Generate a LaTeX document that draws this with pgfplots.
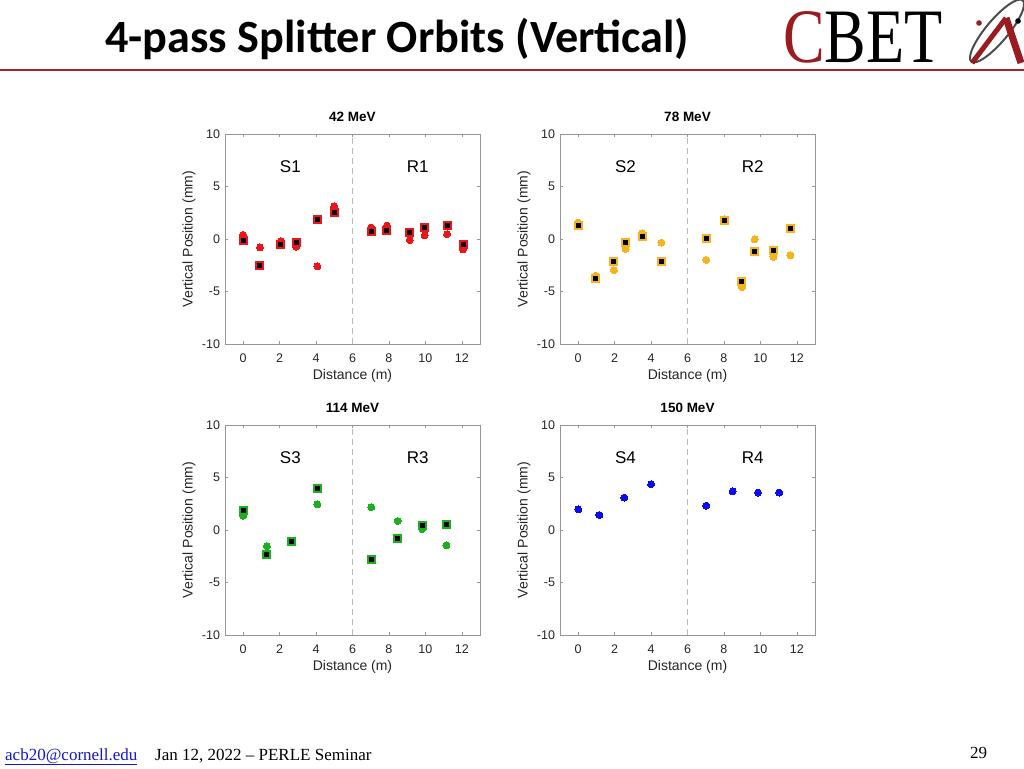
\documentclass[border=0pt]{standalone}
\usepackage{fontspec}
\setmainfont{Liberation Sans}
\newfontfamily\carlito{Carlito}
\newfontfamily\tnr{Liberation Serif}
\usepackage{pgfplots}
\pgfplotsset{compat=1.18}
\definecolor{axgray}{RGB}{150,150,150}
\definecolor{labgray}{RGB}{38,38,38}
\definecolor{mred}{RGB}{236,22,26}
\definecolor{morange}{RGB}{245,180,30}
\definecolor{mgreen}{RGB}{28,176,28}
\definecolor{mblue}{RGB}{12,12,240}
\definecolor{logored}{RGB}{155,28,32}
\definecolor{linered}{RGB}{165,35,45}
\definecolor{dashgray}{RGB}{185,185,185}
\definecolor{linkblue}{RGB}{20,20,220}
\tikzset{seclabel/.style={font=\fontsize{17}{17}\selectfont, text=black}}
\pgfplotsset{
  panel/.style={
    width=255pt, height=210pt, scale only axis,
    xmin=-1, xmax=13, ymin=-10, ymax=10,
    xtick={0,2,...,12}, ytick={-10,-5,0,5,10},
    tick align=inside, major tick length=3pt,
    axis line style={draw=axgray, line width=0.6pt},
    every tick/.style={draw=axgray, line width=0.5pt},
    /pgf/number format/assume math mode=true,
    ticklabel style={font=\fontsize{12.5}{12.5}\selectfont, text=labgray},
    xticklabel style={anchor=center, yshift=-14pt},
    yticklabel style={xshift=-1.5pt},
    xlabel={Distance (m)}, ylabel={Vertical Position (mm)},
    xlabel style={at={(axis description cs:0.5,-0.152)}, anchor=center, font=\fontsize{14}{14}\selectfont, text=labgray},
    ylabel style={at={(axis description cs:-0.141,0.5)}, anchor=center, font=\fontsize{14}{14}\selectfont, text=labgray},
    title style={at={(axis description cs:0.5,1.052)}, anchor=center, font=\bfseries\fontsize{13.5}{13.5}\selectfont, text=black},
    clip=false,
  },
  circ/.style={only marks, mark=*, mark size=3.5pt, mark options={draw=#1, fill=#1, line width=0pt}},
  sq/.style={only marks, mark=square*, mark size=3.5pt, mark options={draw=#1, fill=black, line width=2pt}},
  divider/.style={dashgray, line width=0.9pt, dash pattern=on 6pt off 4pt},
}
\begin{document}
\begin{tikzpicture}[x=1pt,y=1pt]
\fill[white] (0,0) rectangle (1024,768);
\useasboundingbox (0,0) rectangle (1024,768);
% header
\node[anchor=base west, inner sep=0pt, font=\carlito\bfseries\fontsize{46.2}{46.2}\selectfont] at (105,715) {4-pass Splitter Orbits (Vertical)};
\fill[linered] (0,696.5) rectangle (1024,698.8);
% logo
\node[anchor=base west, inner sep=0pt, xscale=0.81, font=\tnr\fontsize{77}{77}\selectfont] at (783,705) {\textcolor{logored}{C}BET};
\draw[gray!60!black, line width=2pt, rotate around={50:(997,737)}] (997,737) ellipse (40 and 11);
\draw[logored, line width=5pt, line cap=butt] (972,705) -- (1006,750);
\draw[logored, line width=7pt, line cap=butt] (1006,750) -- (1021,705);
\fill[logored] (979,745) circle (2.8);
\fill[black] (1018,747) circle (2.8);
% footer
\node[anchor=base west, inner sep=0pt, font=\tnr\fontsize{17}{17}\selectfont, text=linkblue] (mail) at (5,8) {acb20@cornell.edu};
\draw[linkblue, line width=0.8pt] (mail.south west) ++(0,-1) -- ++(132,0);
\node[anchor=base west, inner sep=0pt, font=\tnr\fontsize{17}{17}\selectfont] at (155,8) {Jan 12, 2022 – PERLE Seminar};
\node[anchor=base west, inner sep=0pt, font=\tnr\fontsize{17}{17}\selectfont] at (970,10) {29};

% Panel 1: 42 MeV
\begin{axis}[panel, at={(225pt,424pt)}, anchor=south west, title={42 MeV}]
\addplot[divider] coordinates {(6,-10) (6,10)};
\addplot[circ=mred] coordinates {(0,0.4) (0.92,-0.8) (2.07,-0.2) (2.9,-0.74) (4.07,-2.6) (4.99,3.1) (7.03,1.09) (7.89,1.28) (9.14,-0.1) (9.96,0.35) (11.19,0.45) (12.07,-1.0)};
\addplot[sq=mred] coordinates {(0,-0.1) (0.92,-2.5) (2.07,-0.48) (2.9,-0.35) (4.07,1.9) (4.99,2.53) (7.03,0.7) (7.89,0.8) (9.14,0.64) (9.96,1.09) (11.19,1.28) (12.07,-0.51)};
\node[seclabel] at (axis cs:2.59,6.92) {S1};
\node[seclabel] at (axis cs:9.58,6.92) {R1};
\end{axis}

% Panel 2: 78 MeV
\begin{axis}[panel, at={(560pt,424pt)}, anchor=south west, title={78 MeV}]
\addplot[divider] coordinates {(6,-10) (6,10)};
\addplot[circ=morange] coordinates {(0,1.57) (0.95,-3.5) (1.96,-2.98) (2.6,-0.96) (3.52,0.55) (4.57,-0.35) (7.03,-1.99) (8.04,1.9) (8.99,-4.58) (9.69,-0.03) (10.72,-1.7) (11.65,-1.54)};
\addplot[sq=morange] coordinates {(0,1.25) (0.95,-3.72) (1.96,-2.1) (2.6,-0.32) (3.52,0.22) (4.57,-2.1) (7.03,0.06) (8.04,1.76) (8.99,-4.04) (9.69,-1.19) (10.72,-1.06) (11.65,1.03)};
\node[seclabel] at (axis cs:2.59,6.92) {S2};
\node[seclabel] at (axis cs:9.58,6.92) {R2};
\end{axis}

% Panel 3: 114 MeV
\begin{axis}[panel, at={(225pt,133pt)}, anchor=south west, title={114 MeV}]
\addplot[divider] coordinates {(6,-10) (6,10)};
\addplot[circ=mgreen] coordinates {(0,1.37) (1.3,-1.53) (2.66,-1.11) (4.07,2.45) (7.03,2.17) (8.48,0.86) (9.82,0.1) (11.16,-1.46)};
\addplot[sq=mgreen] coordinates {(0,1.85) (1.3,-2.29) (2.66,-1.11) (4.07,3.92) (7.03,-2.77) (8.48,-0.8) (9.82,0.41) (11.16,0.48)};
\node[seclabel] at (axis cs:2.59,6.92) {S3};
\node[seclabel] at (axis cs:9.58,6.92) {R3};
\end{axis}

% Panel 4: 150 MeV
\begin{axis}[panel, at={(560pt,133pt)}, anchor=south west, title={150 MeV}]
\addplot[divider] coordinates {(6,-10) (6,10)};
\addplot[circ=mblue] coordinates {(0,1.97) (1.16,1.43) (2.53,3.09) (4.0,4.36) (7.03,2.32) (8.48,3.69) (9.87,3.57) (11.03,3.57)};
\node[seclabel] at (axis cs:2.59,6.92) {S4};
\node[seclabel] at (axis cs:9.58,6.92) {R4};
\end{axis}
\end{tikzpicture}
\end{document}
